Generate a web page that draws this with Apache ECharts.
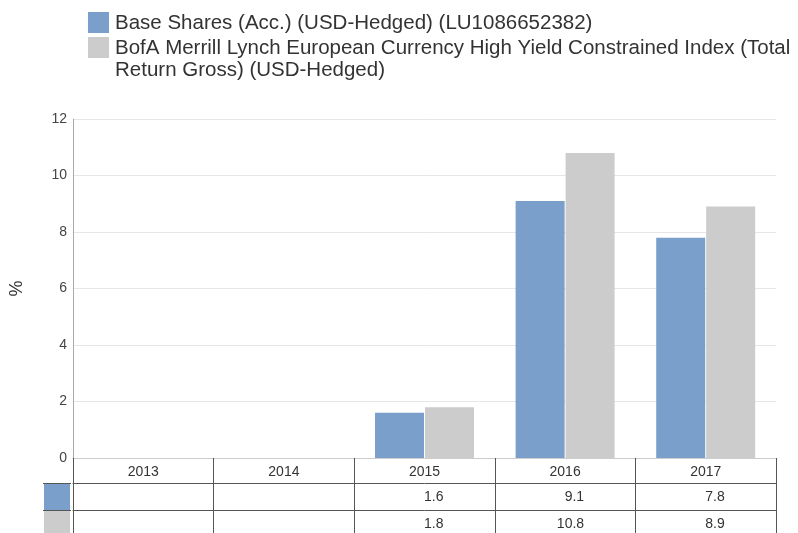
<!DOCTYPE html>
<html>
<head>
<meta charset="utf-8">
<script src="https://cdn.jsdelivr.net/npm/echarts@6/dist/echarts.min.js"></script>
<style>
  html, body { margin: 0; padding: 0; background: #fff; }
  #main { width: 798px; height: 533px; }
</style>
</head>
<body>
<div id="main"></div>
<script>
// data
const years = ['2013', '2014', '2015', '2016', '2017']
const baseShares = [null, null, 1.6, 9.1, 7.8]
const benchmark = [null, null, 1.8, 10.8, 8.9]
const seriesNames = [
  'Base Shares (Acc.) (USD-Hedged) (LU1086652382)',
  'BofA Merrill Lynch European Currency High Yield Constrained Index (Total\nReturn Gross) (USD-Hedged)'
]
const colors = ['#7a9fca', '#cccccc']
const font = '"Liberation Sans", Arial, sans-serif'

// table rows under the axis
function cell(arr) {
  return function (v, i) {
    return arr[i] == null ? '' : '{v|' + arr[i].toFixed(1) + '}'
  }
}

let chart = echarts.init(document.getElementById('main'))
chart.setOption({
  animation: false,
  textStyle: { fontFamily: font },
  grid: { left: 71, right: 22, top: 119, bottom: 75, containLabel: false },
  xAxis: [
    {
      type: 'category',
      data: years,
      axisLine: { lineStyle: { color: '#cccccc', width: 1 } },
      axisTick: { show: true, interval: 0, length: 25, lineStyle: { color: '#555' } },
      axisLabel: { margin: 7, fontSize: 14, color: '#333', fontFamily: font }
    },
    {
      type: 'category',
      data: years,
      position: 'bottom',
      offset: 25,
      axisLine: { lineStyle: { color: '#555' } },
      axisTick: { show: true, interval: 0, length: 27, lineStyle: { color: '#555' } },
      axisLabel: {
        margin: 7, fontSize: 14, color: '#333', fontFamily: font,
        formatter: cell(baseShares),
        rich: { v: { width: 38, align: 'right', fontSize: 14, color: '#333', fontFamily: font } }
      }
    },
    {
      type: 'category',
      data: years,
      position: 'bottom',
      offset: 52,
      axisLine: { lineStyle: { color: '#555' } },
      axisTick: { show: true, interval: 0, length: 27, lineStyle: { color: '#555' } },
      axisLabel: {
        margin: 7, fontSize: 14, color: '#333', fontFamily: font,
        formatter: cell(benchmark),
        rich: { v: { width: 38, align: 'right', fontSize: 14, color: '#333', fontFamily: font } }
      }
    }
  ],
  yAxis: {
    type: 'value',
    min: 0,
    max: 12,
    interval: 2,
    name: '%',
    nameLocation: 'middle',
    nameGap: 47,
    nameTextStyle: { fontSize: 18, color: '#333', fontFamily: font },
    axisLine: { show: true, lineStyle: { color: '#aaaaaa' } },
    axisTick: { show: false },
    axisLabel: { fontSize: 14, color: '#444', margin: 6, fontFamily: font },
    splitLine: { lineStyle: { color: '#e6e6e6' } }
  },
  series: [
    {
      name: seriesNames[0],
      type: 'bar',
      data: baseShares,
      barWidth: 49,
      barGap: '2%',
      itemStyle: { color: colors[0] }
    },
    {
      name: seriesNames[1],
      type: 'bar',
      data: benchmark,
      barWidth: 49,
      barGap: '2%',
      itemStyle: { color: colors[1] }
    }
  ],
  graphic: [
    // legend
    { type: 'rect', left: 88, top: 12, shape: { width: 21, height: 21 }, style: { fill: colors[0] } },
    { type: 'text', x: 115, y: 23, style: { text: seriesNames[0], font: '20.5px ' + font, fill: '#333', verticalAlign: 'middle' } },
    { type: 'rect', left: 88, top: 37, shape: { width: 21, height: 21 }, style: { fill: colors[1] } },
    { type: 'text', x: 115, y: 38, style: { text: seriesNames[1], font: '20.5px ' + font, lineHeight: 21.5, fill: '#333', verticalAlign: 'top' } },
    // colour keys for table rows
    { type: 'rect', shape: { x: 44, y: 484, width: 26, height: 26 }, style: { fill: colors[0] } },
    { type: 'rect', shape: { x: 44, y: 511, width: 26, height: 26 }, style: { fill: colors[1] } },
    { type: 'line', shape: { x1: 43, y1: 483.5, x2: 71, y2: 483.5 }, style: { stroke: '#555', lineWidth: 1 } },
    { type: 'line', shape: { x1: 43, y1: 510.5, x2: 71, y2: 510.5 }, style: { stroke: '#555', lineWidth: 1 } }
  ]
})
</script>
</body>
</html>
